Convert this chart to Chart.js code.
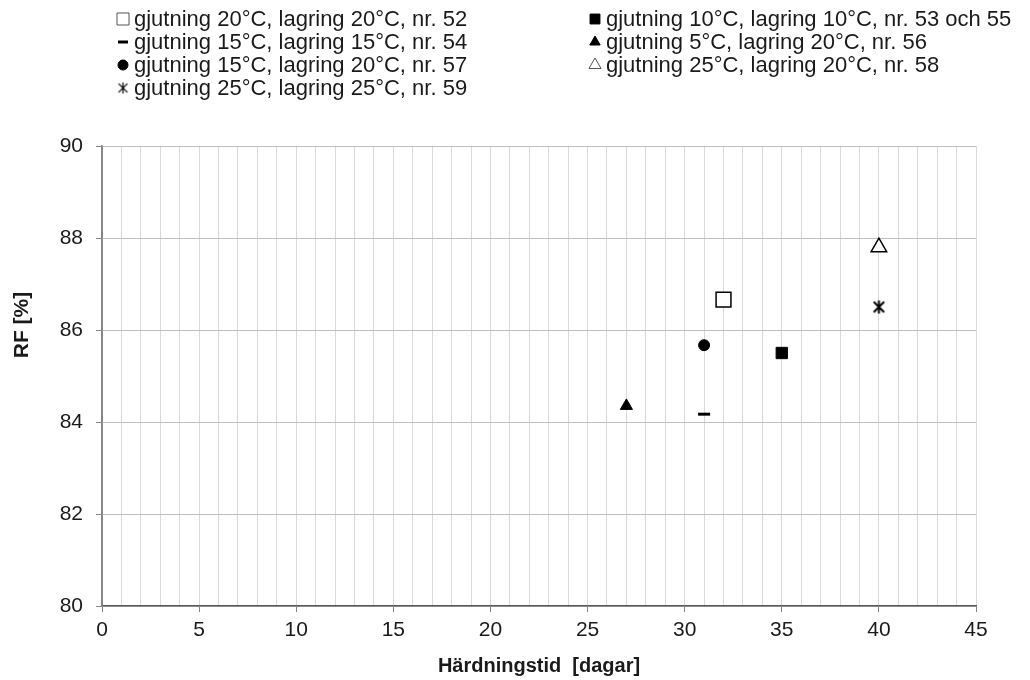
<!DOCTYPE html>
<html>
<head>
<meta charset="utf-8">
<script src="https://cdn.jsdelivr.net/npm/chart.js@4"></script>
<style>
  html, body { margin: 0; padding: 0; background: #fff; }
  #wrap { width: 1030px; height: 680px; }
</style>
</head>
<body>
<div id="wrap"><canvas id="chart" width="1030" height="680"></canvas></div>
<script>
// series data, one point per casting
const seriesLabels = [
    'gjutning 20°C, lagring 20°C, nr. 52',
    'gjutning 10°C, lagring 10°C, nr. 53 och 55',
    'gjutning 15°C, lagring 15°C, nr. 54',
    'gjutning 5°C, lagring 20°C, nr. 56',
    'gjutning 15°C, lagring 20°C, nr. 57',
    'gjutning 25°C, lagring 20°C, nr. 58',
    'gjutning 25°C, lagring 25°C, nr. 59'
];
const hardeningDays = [32, 35, 31, 27, 31, 40, 40];
const rfValues = [86.66, 85.5, 84.17, 84.35, 85.67, 87.8, 86.5];

const xTicks = [0, 5, 10, 15, 20, 25, 30, 35, 40, 45];
const yTicks = [80, 82, 84, 86, 88, 90];
const yTitle = 'RF [%]';

const FONT = '"Liberation Sans", Arial, sans-serif';

// Excel-like asterisk marker: X with a vertical stroke
function makeStar(size, lw) {
    const c = document.createElement('canvas');
    c.width = size;
    c.height = size;
    const g = c.getContext('2d');
    const m = size / 2, r = size / 2 - 1;
    g.strokeStyle = '#000';
    g.lineWidth = lw;
    g.beginPath();
    g.moveTo(m - r * 0.8, m - r * 0.8); g.lineTo(m + r * 0.8, m + r * 0.8);
    g.moveTo(m + r * 0.8, m - r * 0.8); g.lineTo(m - r * 0.8, m + r * 0.8);
    g.moveTo(m, m - r); g.lineTo(m, m + r);
    g.stroke();
    return c;
}

const markerStyles = [
    { pointStyle: 'rect', radius: 10.5, bg: '#fff', border: '#000', bw: 1.5 },
    { pointStyle: 'rect', radius: 8, bg: '#000', border: '#000', bw: 1 },
    { pointStyle: 'line', radius: 6, bg: '#000', border: '#000', bw: 3 },
    { pointStyle: 'triangle', radius: 7, bg: '#000', border: '#000', bw: 1 },
    { pointStyle: 'circle', radius: 5.5, bg: '#000', border: '#000', bw: 1 },
    { pointStyle: 'triangle', radius: 9, bg: '#fff', border: '#000', bw: 1.5 },
    { pointStyle: makeStar(15, 2), radius: 7, bg: '#000', border: '#000', bw: 1 }
];

const legendMarkers = [
    { pointStyle: 'rect', radius: 8.5, bg: '#fff', border: '#555', bw: 1 },
    { pointStyle: 'rect', radius: 7, bg: '#000', border: '#000', bw: 1 },
    { pointStyle: 'line', radius: 5, bg: '#000', border: '#000', bw: 3 },
    { pointStyle: 'triangle', radius: 6, bg: '#000', border: '#000', bw: 1 },
    { pointStyle: 'circle', radius: 5, bg: '#000', border: '#000', bw: 1 },
    { pointStyle: 'triangle', radius: 7, bg: '#fff', border: '#555', bw: 1 },
    { pointStyle: makeStar(13, 1.2), radius: 6, bg: '#000', border: '#555', bw: 1 }
];

const datasets = seriesLabels.map(function(label, i) {
    const s = markerStyles[i];
    return {
        label: label,
        data: [{ x: hardeningDays[i], y: rfValues[i] }],
        pointStyle: s.pointStyle,
        pointRadius: s.radius,
        pointHoverRadius: s.radius,
        pointBackgroundColor: s.bg,
        pointBorderColor: s.border,
        pointBorderWidth: s.bw,
        showLine: false
    };
});

// two-column legend drawn on the canvas (drawPoint uses the current fill/stroke)
const columnLegend = {
    id: 'columnLegend',
    afterDraw: function(chart) {
        const ctx = chart.ctx;
        ctx.save();
        ctx.font = '22px ' + FONT;
        ctx.textBaseline = 'middle';
        chart.data.datasets.forEach(function(ds, i) {
            const col = i % 2;
            const row = Math.floor(i / 2);
            const mx = col === 0 ? 123 : 595;
            const y = 19 + row * 23;
            const m = legendMarkers[i];
            ctx.fillStyle = m.bg;
            ctx.strokeStyle = m.border;
            ctx.lineWidth = m.bw;
            Chart.helpers.drawPoint(ctx, {
                pointStyle: m.pointStyle,
                radius: m.radius,
                rotation: 0,
                borderWidth: m.bw
            }, mx, y);
            ctx.fillStyle = '#1a1a1a';
            ctx.fillText(ds.label, mx + 11, y + 1);
        });
        ctx.restore();
    }
};

// y axis title sits beside the 86 label in the original, not at the plot centre
const sideTitle = {
    id: 'sideTitle',
    afterDraw: function(chart) {
        const ctx = chart.ctx;
        ctx.save();
        ctx.translate(22, 325);
        ctx.rotate(-Math.PI / 2);
        ctx.font = 'bold 21px ' + FONT;
        ctx.fillStyle = '#1a1a1a';
        ctx.textAlign = 'center';
        ctx.textBaseline = 'middle';
        ctx.fillText(yTitle, 0, 0);
        ctx.restore();
    }
};

new Chart(document.getElementById('chart'), {
    type: 'scatter',
    data: { datasets: datasets },
    plugins: [columnLegend, sideTitle],
    options: {
        responsive: false,
        animation: false,
        layout: { padding: { top: 146, right: 54, left: 0, bottom: 0 } },
        plugins: {
            legend: { display: false },
            tooltip: { enabled: false }
        },
        scales: {
            x: {
                type: 'linear',
                min: 0,
                max: 45,
                afterBuildTicks: function(axis) {
                    const t = [];
                    for (let v = 0; v <= 45; v++) t.push({ value: v });
                    axis.ticks = t;
                },
                afterFit: function(axis) { axis.height = 74; },
                ticks: {
                    autoSkip: false,
                    maxRotation: 0,
                    padding: 6,
                    color: '#1a1a1a',
                    font: { family: FONT, size: 21 },
                    callback: function(v) { return xTicks.indexOf(v) >= 0 ? String(v) : ''; }
                },
                grid: {
                    color: function(c) { return c.tick && c.tick.value === 0 ? '#868686' : '#d9d9d9'; },
                    lineWidth: 1,
                    tickLength: 6,
                    tickColor: function(c) { return c.tick && xTicks.indexOf(c.tick.value) >= 0 ? '#868686' : 'rgba(0,0,0,0)'; }
                },
                border: { color: '#595959', width: 1.5 },
                title: {
                    display: true,
                    text: 'Härdningstid  [dagar]',
                    color: '#1a1a1a',
                    font: { family: FONT, size: 20, weight: 'bold' },
                    padding: { top: 0, bottom: 2 }
                }
            },
            y: {
                min: 80,
                max: 90,
                afterBuildTicks: function(axis) {
                    axis.ticks = yTicks.map(function(v) { return { value: v }; });
                },
                afterFit: function(axis) { axis.width = 102; },
                ticks: {
                    padding: 13,
                    color: '#1a1a1a',
                    font: { family: FONT, size: 21 }
                },
                grid: {
                    color: '#bfbfbf',
                    lineWidth: 1,
                    tickLength: 6,
                    tickColor: '#868686'
                },
                border: { color: '#868686', width: 1.5 },
                title: { display: false }
            }
        }
    }
});
</script>
</body>
</html>
